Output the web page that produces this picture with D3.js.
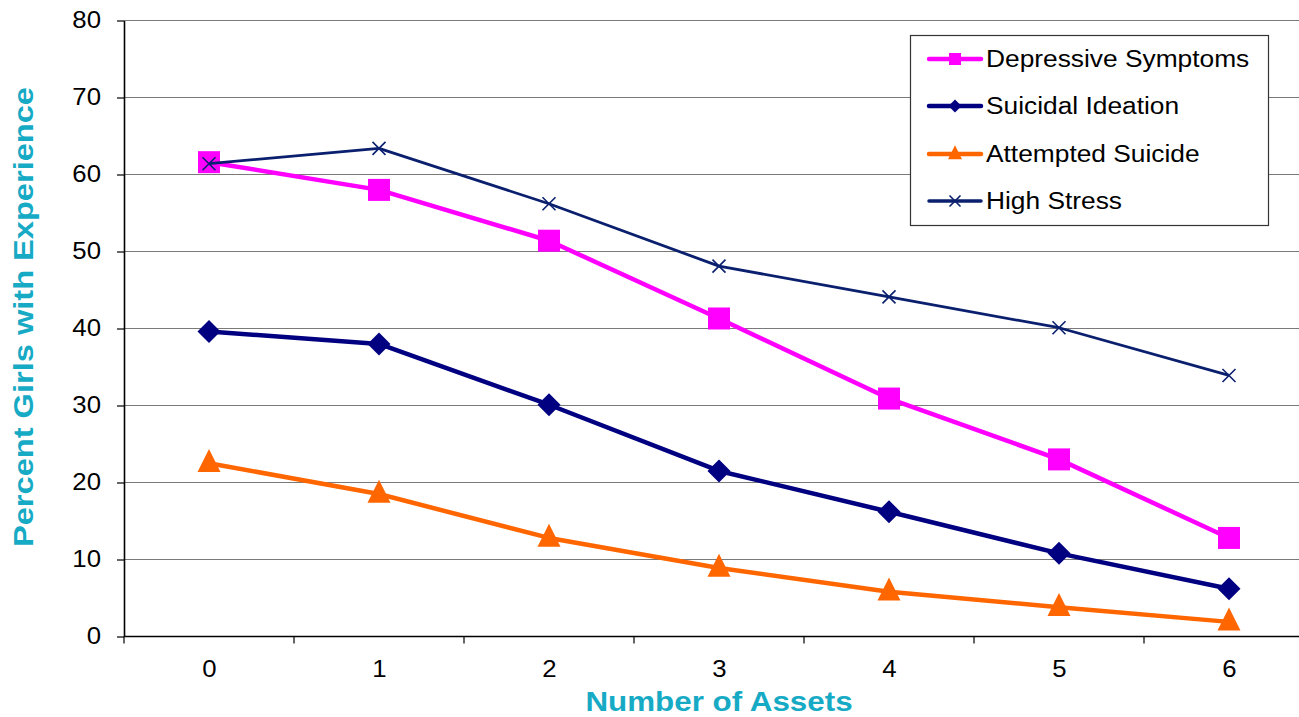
<!DOCTYPE html>
<html>
<head>
<meta charset="utf-8">
<script src="https://cdn.jsdelivr.net/npm/d3@7/dist/d3.min.js"></script>
<style>
  html, body { margin: 0; padding: 0; background: #fff; }
  svg { display: block; font-family: "Liberation Sans", Arial, sans-serif; }
</style>
</head>
<body>
<svg id="chart" width="1299" height="717"></svg>
<script>
// Number of assets on the x axis
const assets = ["0", "1", "2", "3", "4", "5", "6"];
const yTicks = [0, 10, 20, 30, 40, 50, 60, 70, 80];

// Percent of girls reporting each experience
const depressiveSymptoms = [61.6, 58.0, 51.4, 41.3, 30.9, 23.0, 12.8];
const suicidalIdeation   = [39.6, 38.0, 30.1, 21.5, 16.2, 10.8, 6.2];
const attemptedSuicide   = [22.5, 18.5, 12.8, 8.9, 5.8, 3.8, 1.9];
const highStress         = [61.4, 63.4, 56.2, 48.1, 44.1, 40.1, 33.9];

const seriesNames = ["Depressive Symptoms", "Suicidal Ideation", "Attempted Suicide", "High Stress"];

const series = [
  { name: seriesNames[0], values: depressiveSymptoms, color: "#FF00FF", width: 4.5, marker: "square" },
  { name: seriesNames[1], values: suicidalIdeation,   color: "#000080", width: 4.5, marker: "diamond" },
  { name: seriesNames[2], values: attemptedSuicide,   color: "#FF6600", width: 4.5, marker: "triangle" },
  { name: seriesNames[3], values: highStress,         color: "#0A1F6E", width: 2.8, marker: "cross" }
];

const STRETCH = 1.12;
const titleColor = "#17AAC5";

const svg = d3.select("#chart");
const plotLeft = 124, plotRight = 1314, plotTop = 20.5, plotBottom = 636.5;

const x = d3.scalePoint().domain(assets).range([plotLeft, plotRight]).padding(0.5);
const y = d3.scaleLinear().domain([0, 80]).range([plotBottom, plotTop]);

// widen text horizontally a little
function stretch(sel, factor) {
  sel.each(function () {
    const w = this.getComputedTextLength();
    this.setAttribute("textLength", w * factor);
    this.setAttribute("lengthAdjust", "spacingAndGlyphs");
  });
}

// horizontal gridlines
svg.append("g")
  .selectAll("line")
  .data(yTicks.filter(d => d > 0))
  .join("line")
  .attr("x1", plotLeft).attr("x2", 1299)
  .attr("y1", d => y(d)).attr("y2", d => y(d))
  .attr("stroke", "#7a7a7a")
  .attr("stroke-width", 1.2);

// y axis
const yAxis = svg.append("g")
  .attr("transform", `translate(${plotLeft},0)`)
  .call(d3.axisLeft(y).tickValues(yTicks).tickSize(7).tickPadding(16).tickSizeOuter(0));
yAxis.select(".domain").attr("stroke", "#000").attr("stroke-width", 1.6);
yAxis.selectAll(".tick line").attr("stroke", "#000").attr("stroke-width", 1.2);
yAxis.selectAll(".tick text")
  .attr("font-size", 23).attr("fill", "#000")
  .attr("font-family", "Liberation Sans, Arial, sans-serif")
  .call(stretch, STRETCH);

// x axis with labels at the points and tick marks between categories
const xAxis = svg.append("g")
  .attr("transform", `translate(0,${plotBottom})`)
  .call(d3.axisBottom(x).tickSize(0).tickPadding(24));
xAxis.select(".domain").remove();
xAxis.selectAll(".tick text")
  .attr("font-size", 23).attr("fill", "#000")
  .attr("font-family", "Liberation Sans, Arial, sans-serif")
  .call(stretch, STRETCH);
svg.append("line")
  .attr("x1", plotLeft).attr("x2", 1299)
  .attr("y1", plotBottom).attr("y2", plotBottom)
  .attr("stroke", "#000").attr("stroke-width", 1.6);
const step = x.step();
const boundaries = assets.map(a => x(a) - step / 2).concat([x(assets[assets.length - 1]) + step / 2]);
svg.append("g")
  .selectAll("line")
  .data(boundaries)
  .join("line")
  .attr("x1", d => d).attr("x2", d => d)
  .attr("y1", plotBottom).attr("y2", plotBottom + 7)
  .attr("stroke", "#000").attr("stroke-width", 1.2);

// axis titles
svg.append("text")
  .attr("x", 719).attr("y", 711)
  .attr("text-anchor", "middle")
  .attr("font-size", 28).attr("font-weight", "bold")
  .attr("fill", titleColor)
  .text("Number of Assets")
  .call(stretch, STRETCH);

svg.append("text")
  .attr("transform", "translate(33,317) rotate(-90)")
  .attr("text-anchor", "middle")
  .attr("font-size", 28).attr("font-weight", "bold")
  .attr("fill", titleColor)
  .text("Percent Girls with Experience")
  .attr("textLength", 460)
  .attr("lengthAdjust", "spacingAndGlyphs");

// marker shapes
function drawMarker(g, type, color, size) {
  const h = size / 2;
  if (type === "square") {
    g.append("rect").attr("x", -h).attr("y", -h).attr("width", size).attr("height", size).attr("fill", color);
  } else if (type === "diamond") {
    g.append("path").attr("d", `M0,${-h}L${h},0L0,${h}L${-h},0Z`).attr("fill", color);
  } else if (type === "triangle") {
    const tt = size * 0.62, tb = size * 0.38;
    g.append("path").attr("d", `M0,${-tt}L${h},${tb}L${-h},${tb}Z`).attr("fill", color);
  } else if (type === "cross") {
    const c = size / 2;
    g.append("path").attr("d", `M${-c},${-c}L${c},${c}M${-c},${c}L${c},${-c}`)
      .attr("stroke", color).attr("stroke-width", 1.6).attr("fill", "none");
  }
}

const markerSize = { square: 22, diamond: 23, triangle: 23, cross: 13 };
const legendMarkerSize = { square: 12, diamond: 13, triangle: 14, cross: 11 };

const line = d3.line().x((d, i) => x(assets[i])).y(d => y(d));

series.forEach(s => {
  const g = svg.append("g");
  g.append("path")
    .attr("d", line(s.values))
    .attr("fill", "none")
    .attr("stroke", s.color)
    .attr("stroke-width", s.width)
    .attr("stroke-linejoin", "round");
  s.values.forEach((v, i) => {
    const m = g.append("g").attr("transform", `translate(${x(assets[i])},${y(v)})`);
    drawMarker(m, s.marker, s.color, markerSize[s.marker]);
  });
});

// legend
const legend = svg.append("g");
legend.append("rect")
  .attr("x", 910.5).attr("y", 35.5).attr("width", 358).attr("height", 190)
  .attr("fill", "#fff").attr("stroke", "#333").attr("stroke-width", 1.2);
const rowY = [59, 106, 154, 201];
series.forEach((s, i) => {
  const row = legend.append("g").attr("transform", `translate(0,${rowY[i]})`);
  row.append("line")
    .attr("x1", 929).attr("x2", 981).attr("y1", 0).attr("y2", 0)
    .attr("stroke", s.color).attr("stroke-width", s.marker === "cross" ? 3.5 : 4.5)
    .attr("stroke-linecap", "round");
  const m = row.append("g").attr("transform", "translate(955,0)");
  drawMarker(m, s.marker, s.color, legendMarkerSize[s.marker]);
  row.append("text")
    .attr("x", 986).attr("y", 0).attr("dy", "0.36em")
    .attr("font-size", 23.5).attr("fill", "#000")
    .text(s.name)
    .call(stretch, STRETCH);
});
</script>
</body>
</html>
